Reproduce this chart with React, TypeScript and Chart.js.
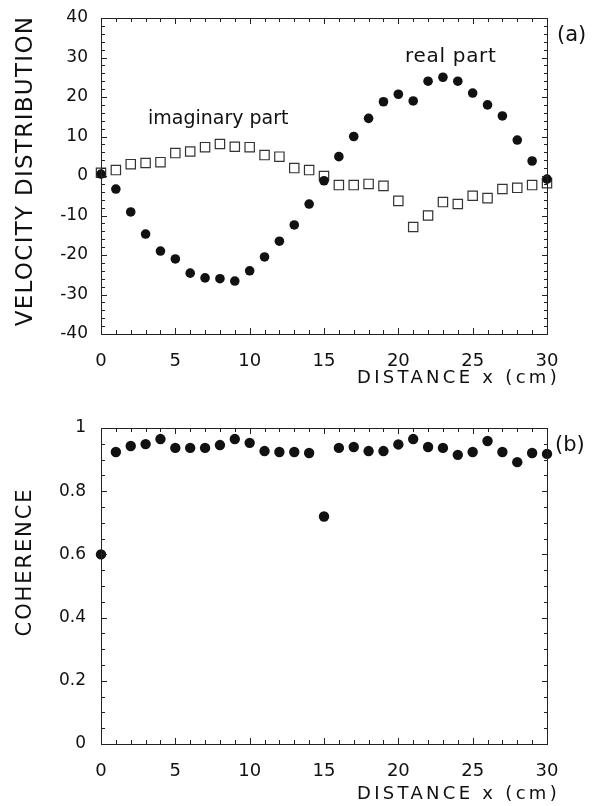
import React, { useEffect, useRef } from 'react';
import { Chart, registerables } from 'chart.js';

Chart.register(...registerables);

// ---------- data ----------
const DISTANCE = [0, 1, 2, 3, 4, 5, 6, 7, 8, 9, 10, 11, 12, 13, 14, 15, 16, 17, 18, 19, 20, 21, 22, 23, 24, 25, 26, 27, 28, 29, 30];

const REAL_PART = [0.5, -3.3, -9.1, -14.7, -19, -21, -24.6, -25.8, -26, -26.6, -24, -20.5, -16.5, -12.4, -7.1, -1.2, 4.9, 10, 14.6, 18.8, 20.7, 19, 24, 25, 24, 21, 18, 15.2, 9.1, 3.8, -0.8];

const IMAGINARY_PART = [0.8, 1.5, 3, 3.3, 3.5, 5.8, 6.2, 7.3, 8.1, 7.4, 7.3, 5.3, 4.9, 2, 1.5, 0, -2.3, -2.3, -2, -2.5, -6.3, -12.9, -10, -6.6, -7.1, -5, -5.6, -3.3, -3, -2.3, -1.8];

const COHERENCE = [0.6, 0.924, 0.943, 0.949, 0.965, 0.937, 0.937, 0.937, 0.946, 0.965, 0.953, 0.927, 0.924, 0.924, 0.921, 0.72, 0.937, 0.94, 0.927, 0.927, 0.948, 0.965, 0.94, 0.937, 0.915, 0.924, 0.959, 0.924, 0.892, 0.921, 0.918];

const X_TICK_LABELS = ['0', '5', '10', '15', '20', '25', '30'];
const VELOCITY_TICK_LABELS = ['-40', '-30', '-20', '-10', '0', '10', '20', '30', '40'];
const COHERENCE_TICK_LABELS = ['0', '0.2', '0.4', '0.6', '0.8', '1'];

// ---------- styling ----------
const FONT = "'DejaVu Sans', 'Liberation Sans', sans-serif";
const INK = '#111111';
const FRAME = '#222222';

type TextItem = {
  text: string;
  x: number;
  y: number;
  size: number;
  spacing: number;
  align: CanvasTextAlign;
  baseline: CanvasTextBaseline;
  rotate?: boolean;
};

// Box frame (all four sides) with inward ticks at the scales' own tick positions, then the figure texts.
function decorPlugin(xLabels: string[], yLabels: string[], items: TextItem[]) {
  return {
    id: 'figureDecor',
    afterDraw(chart: any) {
      const ctx = chart.ctx as CanvasRenderingContext2D;
      const xs = chart.scales.x;
      const ys = chart.scales.y;
      const L = Math.round(xs.getPixelForValue(xs.min));
      const R = Math.round(xs.getPixelForValue(xs.max));
      const T = Math.round(ys.getPixelForValue(ys.max));
      const B = Math.round(ys.getPixelForValue(ys.min));

      ctx.save();
      ctx.fillStyle = FRAME;
      // frame: top, bottom, left, right
      ctx.fillRect(L, T, R - L + 1, 1);
      ctx.fillRect(L, B, R - L + 1, 1);
      ctx.fillRect(L, T, 1, B - T + 1);
      ctx.fillRect(R, T, 1, B - T + 1);
      for (const t of xs.ticks) {
        const px = Math.round(xs.getPixelForValue(t.value));
        const len = xLabels.includes(String(t.value)) ? 6 : 4;
        ctx.fillRect(px, B - len, 1, len);
        ctx.fillRect(px, T, 1, len);
      }
      for (const t of ys.ticks) {
        const py = Math.round(ys.getPixelForValue(t.value));
        const len = yLabels.includes(String(t.value)) ? 6 : 4;
        ctx.fillRect(L, py, len, 1);
        ctx.fillRect(R - len + 1, py, len, 1);
      }
      ctx.restore();

      for (const it of items) {
        ctx.save();
        ctx.font = `${it.size}px ${FONT}`;
        (ctx as any).letterSpacing = `${it.spacing}px`;
        ctx.fillStyle = INK;
        ctx.textAlign = it.align;
        ctx.textBaseline = it.baseline;
        ctx.translate(it.x, it.y);
        if (it.rotate) ctx.rotate(-Math.PI / 2);
        ctx.fillText(it.text, 0, 0);
        ctx.restore();
      }
    },
  };
}

function axis(
  position: string,
  min: number,
  max: number,
  step: number,
  labels: string[],
  size: number,
  fontSize: number,
  pad: number
) {
  return {
    type: 'linear',
    position,
    min,
    max,
    afterFit: (s: any) => {
      if (s.isHorizontal()) s.height = size;
      else s.width = size;
      s.paddingTop = 0;
      s.paddingBottom = 0;
      s.paddingLeft = 0;
      s.paddingRight = 0;
    },
    border: { display: false },
    grid: { display: false, drawTicks: false, drawOnChartArea: false },
    ticks: {
      display: true,
      stepSize: step,
      autoSkip: false,
      maxRotation: 0,
      minRotation: 0,
      padding: pad,
      color: INK,
      font: { family: FONT, size: fontSize },
      callback: (v: any) => (labels.includes(String(v)) ? String(v) : ''),
    },
  };
}

const pts = (ys: number[]) => DISTANCE.map((x, i) => ({ x, y: ys[i] }));

export default function App() {
  const topRef = useRef<HTMLCanvasElement>(null);
  const botRef = useRef<HTMLCanvasElement>(null);

  useEffect(() => {
    if (!topRef.current || !botRef.current) return;

    const top = new Chart(topRef.current, {
      type: 'scatter',
      data: {
        datasets: [
          {
            label: 'real part',
            data: pts(REAL_PART),
            pointStyle: 'circle',
            pointRadius: 4.8,
            backgroundColor: INK,
            borderColor: INK,
            borderWidth: 0,
            clip: false,
          } as any,
          {
            label: 'imaginary part',
            data: pts(IMAGINARY_PART),
            pointStyle: 'rect',
            pointRadius: 6.6,
            backgroundColor: 'rgba(255,255,255,0)',
            borderColor: '#333333',
            borderWidth: 1.2,
            clip: false,
          } as any,
        ],
      },
      options: {
        animation: false,
        responsive: false,
        events: [],
        layout: { padding: { left: 0, top: 18, right: 54, bottom: 0 } },
        plugins: { legend: { display: false }, tooltip: { enabled: false } },
        scales: {
          x: axis('bottom', 0, 30, 1, X_TICK_LABELS, 66, 18, 17),
          y: axis('left', -40, 40, 2, VELOCITY_TICK_LABELS, 101, 17, 13),
        } as any,
      },
      plugins: [
        decorPlugin(X_TICK_LABELS, VELOCITY_TICK_LABELS, [
          { text: 'VELOCITY DISTRIBUTION', x: 26, y: 171, size: 23, spacing: 1.3, align: 'center', baseline: 'middle', rotate: true },
          { text: 'DISTANCE x (cm)', x: 560, y: 383, size: 18, spacing: 3.3, align: 'right', baseline: 'alphabetic' },
          { text: '(a)', x: 557, y: 36, size: 21, spacing: 0, align: 'left', baseline: 'middle' },
          { text: 'real part', x: 405, y: 62, size: 20, spacing: 0.7, align: 'left', baseline: 'alphabetic' },
          { text: 'imaginary part', x: 148, y: 124, size: 19, spacing: 0, align: 'left', baseline: 'alphabetic' },
        ]),
      ],
    } as any);

    const bottom = new Chart(botRef.current, {
      type: 'scatter',
      data: {
        datasets: [
          {
            label: 'coherence',
            data: pts(COHERENCE),
            pointStyle: 'circle',
            pointRadius: 5.2,
            backgroundColor: INK,
            borderColor: INK,
            borderWidth: 0,
            clip: false,
          } as any,
        ],
      },
      options: {
        animation: false,
        responsive: false,
        events: [],
        layout: { padding: { left: 0, top: 28, right: 54, bottom: 0 } },
        plugins: { legend: { display: false }, tooltip: { enabled: false } },
        scales: {
          x: axis('bottom', 0, 30, 1, X_TICK_LABELS, 62, 18, 17),
          y: axis('left', 0, 1, 0.05, COHERENCE_TICK_LABELS, 101, 17, 15),
        } as any,
      },
      plugins: [
        decorPlugin(X_TICK_LABELS, COHERENCE_TICK_LABELS, [
          { text: 'COHERENCE', x: 26, y: 162, size: 21, spacing: 1.9, align: 'center', baseline: 'middle', rotate: true },
          { text: 'DISTANCE x (cm)', x: 560, y: 399, size: 18, spacing: 3.3, align: 'right', baseline: 'alphabetic' },
          { text: '(b)', x: 555, y: 46, size: 21, spacing: 0, align: 'left', baseline: 'middle' },
        ]),
      ],
    } as any);

    return () => {
      top.destroy();
      bottom.destroy();
    };
  }, []);

  return (
    <div style={{ position: 'absolute', left: 0, top: 0, width: 601, height: 806, background: '#ffffff' }}>
      <canvas ref={topRef} width={601} height={400} style={{ display: 'block', width: 601, height: 400 }} />
      <canvas ref={botRef} width={601} height={406} style={{ display: 'block', width: 601, height: 406 }} />
    </div>
  );
}
